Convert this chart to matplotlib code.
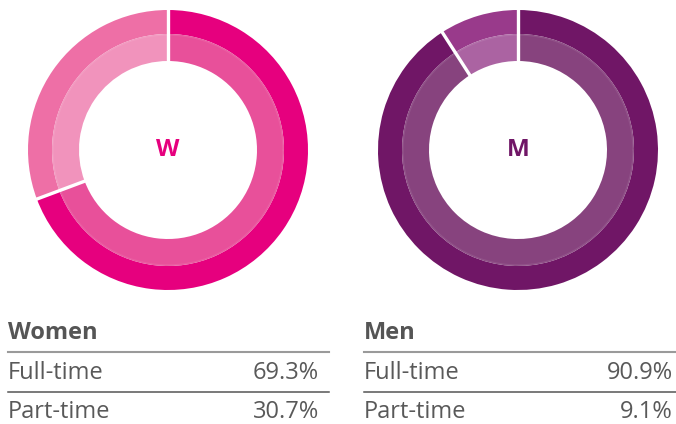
import numpy as np
import matplotlib.pyplot as plt

plt.rcParams['font.family'] = ['Open Sans', 'DejaVu Sans']

# data
groups = ["Women", "Men"]
letters = ["W", "M"]
categories = ["Full-time", "Part-time"]
women_share = [69.3, 30.7]
men_share = [90.9, 9.1]
value_labels = [["69.3%", "30.7%"], ["90.9%", "9.1%"]]

outer_colors = [["#E6007E", "#EE6FA6"], ["#701666", "#993A8B"]]
inner_colors = [["#E8509A", "#F193BC"], ["#87437E", "#AB63A2"]]
letter_colors = ["#E6007E", "#701666"]

W, H = 676, 424
fig = plt.figure(figsize=(W / 100, H / 100), dpi=100)
ax = fig.add_axes([0, 0, 1, 1])

centers = [(168, H - 150), (518, H - 150)]
r_out, r_mid, r_in = 140, 116, 89

for i, vals in enumerate([women_share, men_share]):
    c = centers[i]
    # outer ring
    ax.pie(vals, radius=r_out, center=c, colors=outer_colors[i],
           startangle=90, counterclock=False,
           wedgeprops=dict(width=r_out - r_mid, linewidth=0))
    # lighter inner ring
    ax.pie(vals, radius=r_mid, center=c, colors=inner_colors[i],
           startangle=90, counterclock=False,
           wedgeprops=dict(width=r_mid - r_in, linewidth=0))
    # faint line between the two bands
    t = np.linspace(0, 2 * np.pi, 400)
    ax.plot(c[0] + (r_mid - 1) * np.cos(t), c[1] + (r_mid - 1) * np.sin(t),
            color="white", alpha=0.08, lw=1)
    # white separators at slice boundaries (clockwise from top)
    bounds = np.concatenate([[0], np.cumsum(vals)[:-1]])
    for b in bounds:
        a = np.deg2rad(90 - b * 3.6)
        ax.plot([c[0] + (r_in - 1) * np.cos(a), c[0] + (r_out + 1) * np.cos(a)],
                [c[1] + (r_in - 1) * np.sin(a), c[1] + (r_out + 1) * np.sin(a)],
                color="white", lw=2.4, solid_capstyle="butt")
    ax.text(c[0], c[1], letters[i], ha="center", va="center",
            fontsize=17.5, fontweight="bold", color=letter_colors[i])

# table below the rings
x_left = [8, 364]
x_right = [319, 673]
line_end = [329, 676]
for i, g in enumerate(groups):
    ax.text(x_left[i], H - 333, g, ha="left", va="center",
            fontsize=17, fontweight="bold", color="#555555")
    ax.plot([x_left[i], line_end[i]], [H - 351.5, H - 351.5], color="#9a9a9a", lw=1.5)
    ax.plot([x_left[i], line_end[i]], [H - 391.5, H - 391.5], color="#555555", lw=1.1)
    for j, cat in enumerate(categories):
        y = H - (373 + 39 * j)
        ax.text(x_left[i], y, cat, ha="left", va="center",
                fontsize=17, color="#595959")
        ax.text(x_right[i], y, value_labels[i][j], ha="right", va="center",
                fontsize=17, color="#595959")

ax.set_xlim(0, W)
ax.set_ylim(0, H)
ax.set_aspect("auto")
ax.axis("off")

fig.savefig("out.png", dpi=100)
